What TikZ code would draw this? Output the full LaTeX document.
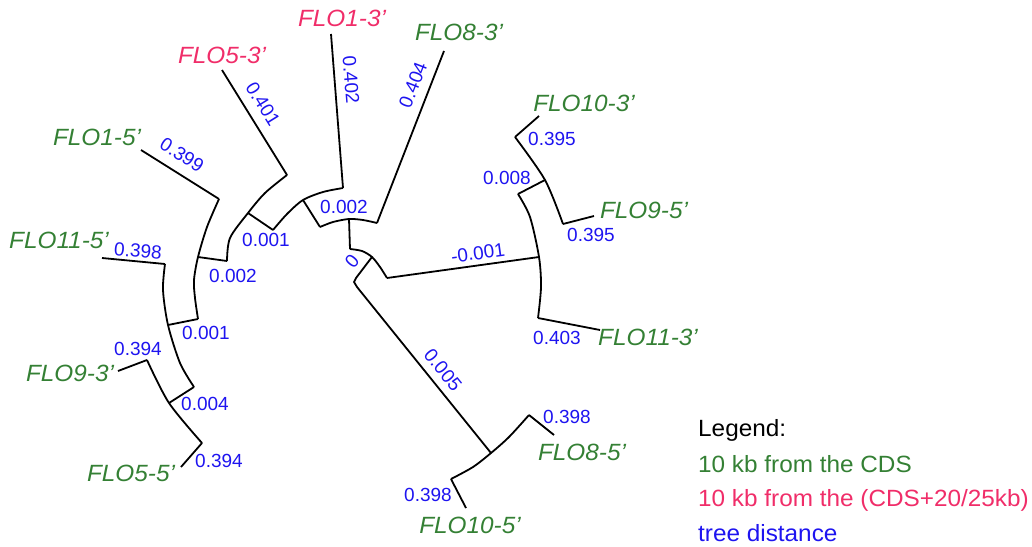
\documentclass[tikz,border=0pt]{standalone}
\usepackage{fontspec}
\setmainfont{Liberation Sans}
\newfontfamily\widefont{Liberation Sans}[FakeStretch=1.035]
\definecolor{leafgreen}{RGB}{52,128,52}
\definecolor{leafpink}{RGB}{240,45,105}
\definecolor{distblue}{RGB}{30,20,240}

\begin{document}
\begin{tikzpicture}[x=1pt,y=-1pt,
  branch/.style={line width=1.8pt, line join=round},
  leaf/.style={inner sep=0pt, font=\widefont\itshape\fontsize{23.5}{28}\selectfont},
  green leaf/.style={leaf, text=leafgreen},
  pink leaf/.style={leaf, text=leafpink},
  dist/.style={inner sep=0pt, text=distblue, font=\fontsize{19}{22}\selectfont},
  legend/.style={anchor=base west, inner sep=0pt, font=\widefont\fontsize{23.5}{28}\selectfont}]
\useasboundingbox (0,0) rectangle (1032,546);

% ---- internal node arcs (sample points along each arc)
\coordinate (u1) at (147,360); \coordinate (u2) at (169,403); \coordinate (u3) at (202,443);
\coordinate (v1) at (165,264); \coordinate (va) at (163,290); \coordinate (v2) at (168,325);
\coordinate (vb) at (180,363); \coordinate (v3) at (194,387);
\coordinate (w1) at (219,199); \coordinate (wa) at (207,227); \coordinate (w2) at (198,257);
\coordinate (wb) at (194,280); \coordinate (wc) at (195,298); \coordinate (w3) at (198,319);
\coordinate (z1) at (227,261); \coordinate (za) at (230,238); \coordinate (z2) at (248,213);
\coordinate (zb) at (265,193); \coordinate (z3) at (287,175);
\coordinate (y1) at (273,230); \coordinate (ya) at (287,214); \coordinate (y2) at (303,200);
\coordinate (yb) at (323,192); \coordinate (y3) at (343,188);
\coordinate (x1) at (320,227); \coordinate (xa) at (333,222); \coordinate (x2) at (349,219);
\coordinate (xb) at (363,220); \coordinate (x3) at (377,223);
\coordinate (r1) at (350,249); \coordinate (ra) at (362,251); \coordinate (r2) at (372,257);
\coordinate (rb) at (380,267); \coordinate (r3) at (387,278);
\coordinate (k1) at (356,278); \coordinate (k2) at (354,282); \coordinate (k3) at (357,287);
\coordinate (q1) at (518,194); \coordinate (qa) at (530,217); \coordinate (q2) at (539,257);
\coordinate (qb) at (541,287); \coordinate (q3) at (538,318);
\coordinate (p1) at (515,137); \coordinate (p2) at (545,180); \coordinate (p3) at (563,224);
\coordinate (b1) at (529,415); \coordinate (ba) at (509,437); \coordinate (b2) at (491,453);
\coordinate (bb) at (473,467); \coordinate (b3) at (451,479);

% ---- leaf tips
\coordinate (tip115) at (102,258);
\coordinate (tip93)  at (118,371);
\coordinate (tip55)  at (181,467);
\coordinate (tip15)  at (141,150);
\coordinate (tip53)  at (222,70);
\coordinate (tip13)  at (331,34);
\coordinate (tip83)  at (444,51);
\coordinate (tip103) at (539,116);
\coordinate (tip95)  at (594,216);
\coordinate (tip113) at (600,330);
\coordinate (tip85)  at (554,435);
\coordinate (tip105) at (466,508);

% ---- arcs
\draw[branch] plot[smooth] coordinates {(u1) (u2) (u3)};
\draw[branch] plot[smooth] coordinates {(v1) (va) (v2) (vb) (v3)};
\draw[branch] plot[smooth] coordinates {(w1) (wa) (w2) (wb) (wc) (w3)};
\draw[branch] plot[smooth] coordinates {(z1) (za) (z2) (zb) (z3)};
\draw[branch] plot[smooth] coordinates {(y1) (ya) (y2) (yb) (y3)};
\draw[branch] plot[smooth] coordinates {(x1) (xa) (x2) (xb) (x3)};
\draw[branch] plot[smooth] coordinates {(r1) (ra) (r2) (rb) (r3)};
\draw[branch] plot[smooth] coordinates {(q1) (qa) (q2) (qb) (q3)};
\draw[branch] plot[smooth] coordinates {(p1) (p2) (p3)};
\draw[branch] plot[smooth] coordinates {(b1) (ba) (b2) (bb) (b3)};

% ---- internal edges
\draw[branch] (u2) -- (v3);
\draw[branch] (v2) -- (w3);
\draw[branch] (w2) -- (z1);
\draw[branch] (z2) -- (y1);
\draw[branch] (y2) -- (x1);
\draw[branch] (x2) -- (r1);
\draw[branch] (r2) -- (k1) -- (k2) -- (k3) -- (b2);
\draw[branch] (r3) -- (q2);
\draw[branch] (q1) -- (p2);

% ---- leaf edges
\draw[branch] (tip115) -- (v1);
\draw[branch] (tip93)  -- (u1);
\draw[branch] (tip55)  -- (u3);
\draw[branch] (tip15)  -- (w1);
\draw[branch] (tip53)  -- (z3);
\draw[branch] (tip13)  -- (y3);
\draw[branch] (tip83)  -- (x3);
\draw[branch] (tip103) -- (p1);
\draw[branch] (tip95)  -- (p3);
\draw[branch] (tip113) -- (q3);
\draw[branch] (tip85)  -- (b1);
\draw[branch] (tip105) -- (b3);

% ---- leaf names
\node[pink leaf]  (n53)  at (222,55)  {FLO5-3’};
\node[pink leaf]  (n13)  at (342,18)  {FLO1-3’};
\node[green leaf] (n83)  at (459,32)  {FLO8-3’};
\node[green leaf] (n15)  at (97,137)  {FLO1-5’};
\node[green leaf] (n115) at (59,240)  {FLO11-5’};
\node[green leaf] (n93)  at (70,373)  {FLO9-3’};
\node[green leaf] (n55)  at (131,473) {FLO5-5’};
\node[green leaf] (n105) at (470,525) {FLO10-5’};
\node[green leaf] (n85)  at (582,452) {FLO8-5’};
\node[green leaf] (n113) at (648,337) {FLO11-3’};
\node[green leaf] (n95)  at (644,210) {FLO9-5’};
\node[green leaf] (n103) at (584,103) {FLO10-3’};

% ---- branch lengths
\node[dist, rotate=-58.2] (d53)  at (263,104) {0.401};
\node[dist, rotate=-85.5] (d13)  at (351,80)  {0.402};
\node[dist, rotate=68.7]  (d83)  at (413,85)  {0.404};
\node[dist, rotate=-32.7] (d15)  at (182,155) {0.399};
\node[dist, rotate=-5]    (d115) at (138,251) {0.398};
\node[dist] (d93)  at (138,349) {0.394};
\node[dist] (d55)  at (219,461) {0.394};
\node[dist] (dU)   at (205,404) {0.004};
\node[dist] (dV)   at (206,333) {0.001};
\node[dist] (dW)   at (233,276) {0.002};
\node[dist] (dZ)   at (266,240) {0.001};
\node[dist] (dY)   at (344,207) {0.002};
\node[dist, rotate=50]    (dR)  at (352,261) {0};
\node[dist, rotate=7.8]   (dQ)  at (478,253) {-0.001};
\node[dist, rotate=-50.9] (dB)  at (443,370) {0.005};
\node[dist] (dP)   at (507,178) {0.008};
\node[dist] (d103) at (552,139) {0.395};
\node[dist] (d95)  at (591,235) {0.395};
\node[dist] (d113) at (557,338) {0.403};
\node[dist] (d85)  at (567,417) {0.398};
\node[dist] (d105) at (428,495) {0.398};

% ---- legend
\node[legend, text=black]      (lg0) at (698,436) {Legend:};
\node[legend, text=leafgreen]  (lg1) at (698,472) {10 kb from the CDS};
\node[legend, text=leafpink]   (lg2) at (698,506) {10 kb from the (CDS+20/25kb)};
\node[legend, text=distblue]   (lg3) at (698,541) {tree distance};
\end{tikzpicture}
\end{document}
